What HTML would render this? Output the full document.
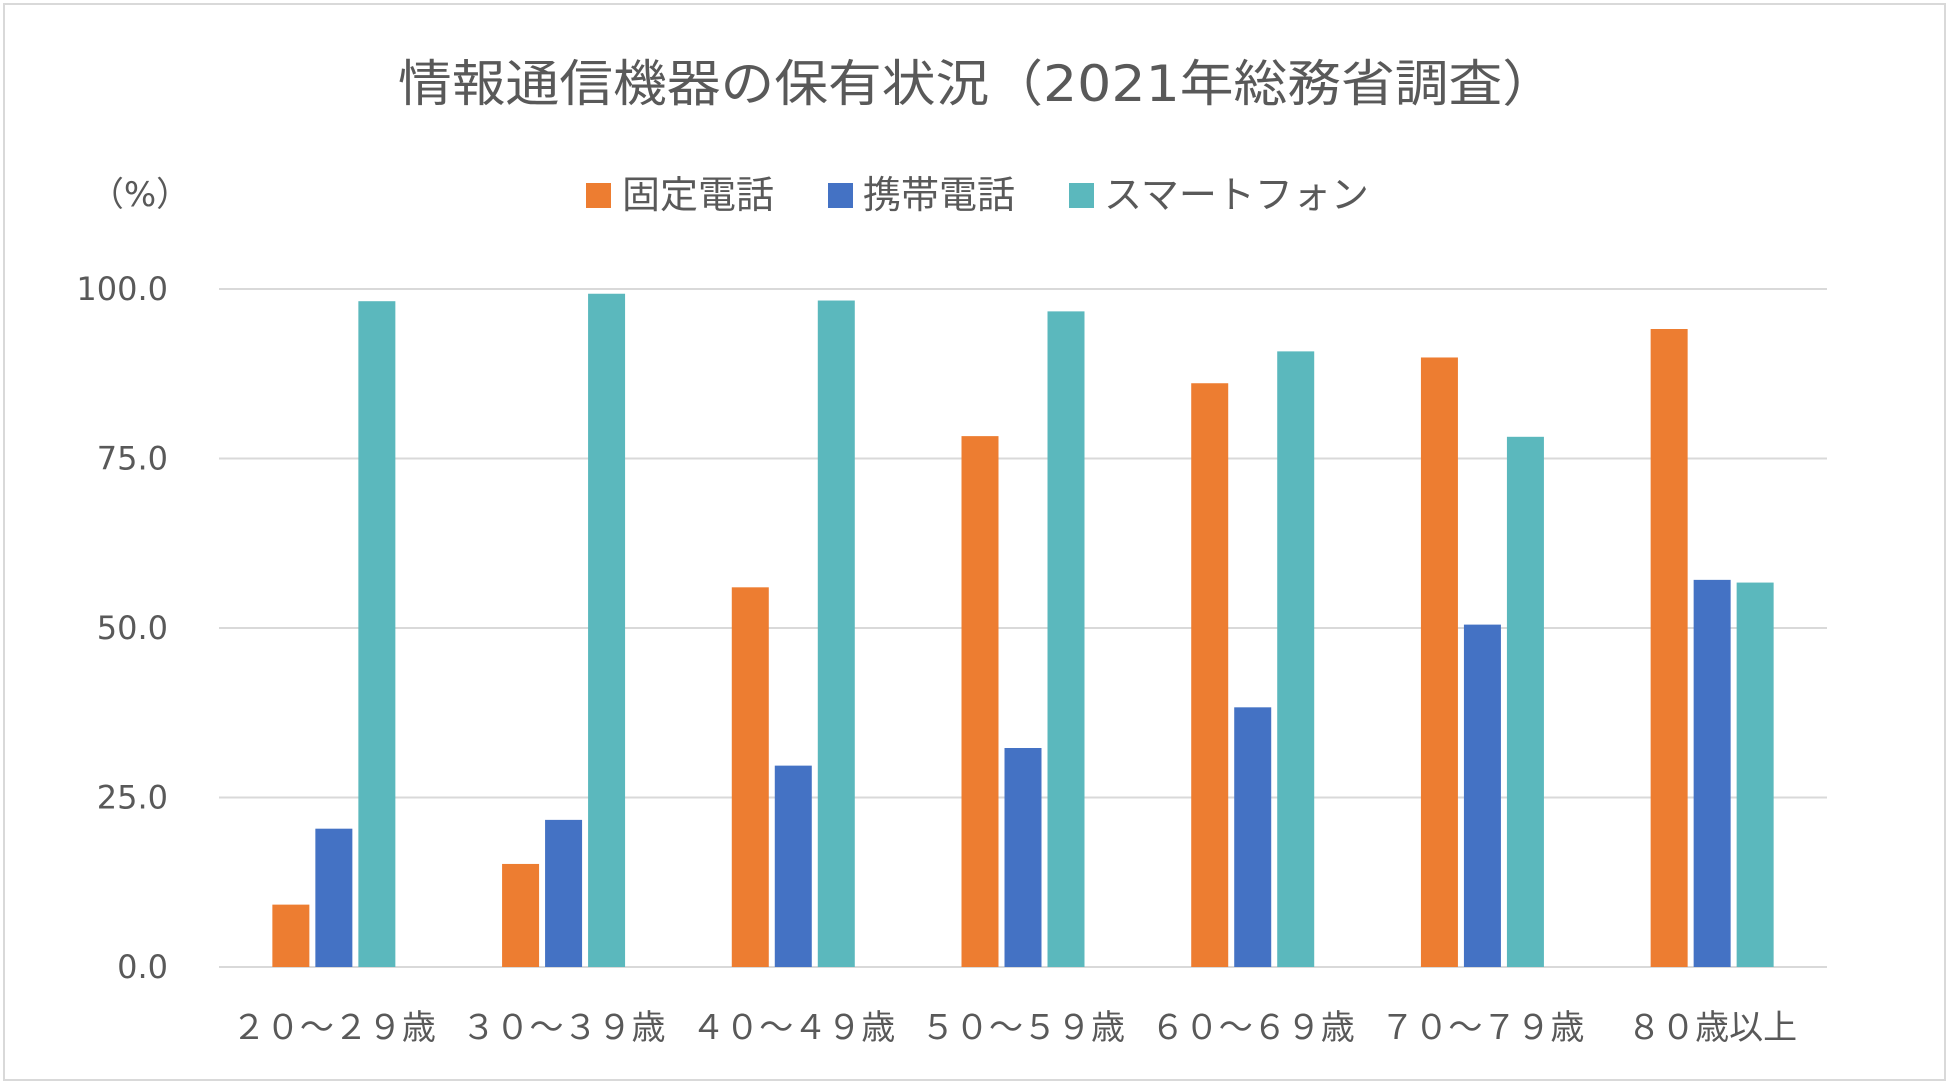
<!DOCTYPE html>
<html><head><meta charset="utf-8"><style>
body{margin:0;background:#fff;width:1950px;height:1086px;overflow:hidden}
svg text{font-family:"DejaVu Sans","Noto Sans CJK JP",sans-serif;fill:#595959}
</style></head><body>
<svg id="chart" width="1950" height="1086" xmlns="http://www.w3.org/2000/svg">
<rect x="4" y="4" width="1941" height="1076" fill="#fff" stroke="#d9d9d9" stroke-width="2"/>
<text x="398" y="101" font-size="50" textLength="1158" lengthAdjust="spacingAndGlyphs">情報通信機器の保有状況（2021年総務省調査）</text>
<text x="140" y="206" font-size="34" text-anchor="middle">（%）</text>
<g>
<rect x="586" y="183" width="25" height="25" fill="#ED7D31"/>
<text x="622" y="208" font-size="38">固定電話</text>
<rect x="828" y="183" width="25" height="25" fill="#4472C4"/>
<text x="863" y="208" font-size="38">携帯電話</text>
<rect x="1069" y="183" width="25" height="25" fill="#5BB8BD"/>
<text x="1104" y="208" font-size="38">スマートフォン</text>
</g>
<g id="grid"></g><g id="bars"></g><g id="labels"></g>
</svg>
<script>
const categories=["２０～２９歳","３０～３９歳","４０～４９歳","５０～５９歳","６０～６９歳","７０～７９歳","８０歳以上"];
const landline=[9.2,15.2,56.0,78.3,86.1,89.9,94.1];
const mobile=[20.4,21.7,29.7,32.3,38.3,50.5,57.1];
const smartphone=[98.2,99.3,98.3,96.7,90.8,78.2,56.7];
const yTicks=[0,25,50,75,100];
const yTickLabels=["0.0","25.0","50.0","75.0","100.0"];
const NS="http://www.w3.org/2000/svg";
const X0=219,X1=1827,Y0=967,Y100=289;
const y=v=>Y0-(Y0-Y100)*v/100;
const gw=(X1-X0)/categories.length;
const gx=i=>X0+gw*i+gw/2;
function mk(tag,attrs,parent){const e=document.createElementNS(NS,tag);for(const k in attrs)e.setAttribute(k,attrs[k]);parent.appendChild(e);return e;}
const grid=document.getElementById('grid'),bars=document.getElementById('bars'),labels=document.getElementById('labels');
yTicks.forEach((t,i)=>{
  const l=mk('line',{x1:X0,x2:X1,y1:y(t),y2:y(t),stroke:'#d9d9d9','stroke-width':2},grid);
  
  
  const tx=mk('text',{x:168,y:y(t)+11,'font-size':32,'text-anchor':'end'},labels);
  tx.textContent=yTickLabels[i];
  
  
});
const series=[[landline,'#ED7D31','landline'],[mobile,'#4472C4','mobile'],[smartphone,'#5BB8BD','smartphone']];
const bw=37,step=43;
categories.forEach((c,i)=>{
  series.forEach(([vals,col,nm],s)=>{
    const cx=gx(i)+(s-1)*step;
    const r=mk('rect',{x:cx-bw/2,y:y(vals[i]),width:bw,height:Y0-y(vals[i]),fill:col},bars);
    
    
  });
  const t=mk('text',{x:gx(i),y:1039,'font-size':34,'text-anchor':'middle'},labels);
  t.textContent=c;
  
  
});
</script>
</body></html>
